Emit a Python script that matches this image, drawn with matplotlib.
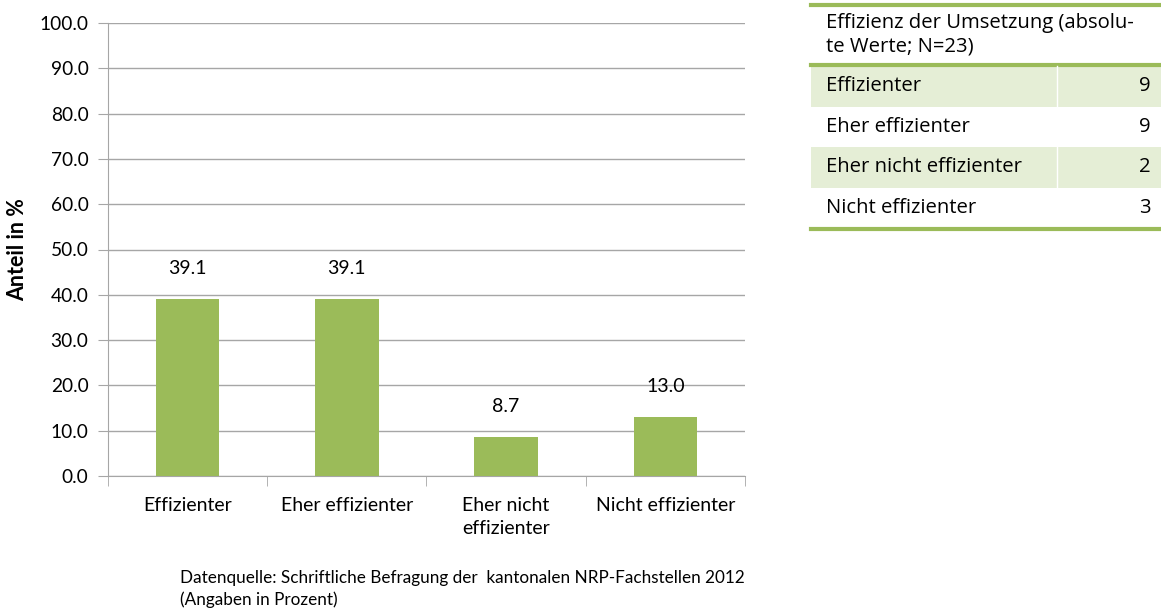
import matplotlib
matplotlib.use("Agg")
import matplotlib.pyplot as plt
from matplotlib.patches import Rectangle
import numpy as np

plt.rcParams['font.family'] = ['Lato', 'DejaVu Sans']

categories = ["Effizienter", "Eher effizienter", "Eher nicht\neffizienter", "Nicht effizienter"]
shares = [39.1, 39.1, 8.7, 13.0]
table_rows = ["Effizienter", "Eher effizienter", "Eher nicht effizienter", "Nicht effizienter"]
table_counts = [9, 9, 2, 3]
table_title = "Effizienz der Umsetzung (absolu-\nte Werte; N=23)"
source = "Datenquelle: Schriftliche Befragung der  kantonalen NRP-Fachstellen 2012\n(Angaben in Prozent)"

GREEN = "#9bbb59"
LIGHT = "#e5eed6"
GRID = "#a6a6a6"
TFONT = ["Open Sans", "DejaVu Sans"]

W, H = 1161, 615
fig = plt.figure(figsize=(W / 100, H / 100), dpi=100)
ax = fig.add_axes([108 / W, 1 - 476 / H, (745 - 108) / W, (476 - 23) / H])

x = np.arange(len(categories))
bars = ax.bar(x, shares, 0.4, color=GREEN, zorder=3)
for b, v in zip(bars, shares):
    ax.text(b.get_x() + b.get_width() / 2, v + 4.8, f"{v:.1f}", ha="center", va="bottom", fontsize=14)

ax.set_xlim(-0.5, len(categories) - 0.5)
ax.set_ylim(0, 100)
ax.set_yticks(np.arange(0, 101, 10))
ax.set_yticklabels([f"{t:.1f}" for t in np.arange(0, 101, 10)], fontsize=13.8)
ax.yaxis.grid(True, color=GRID, lw=1)
ax.set_axisbelow(True)
ax.set_xticks(x)
ax.set_xticklabels(categories, fontsize=14, linespacing=1.45)
ax.set_xticks(np.arange(-0.5, len(categories)), minor=True)
ax.tick_params(axis="x", which="major", length=0, pad=15)
ax.tick_params(axis="x", which="minor", length=7, color=GRID)
ax.tick_params(axis="y", length=7, color=GRID, pad=7)
for s in ["top", "right"]:
    ax.spines[s].set_visible(False)
for s in ["left", "bottom"]:
    ax.spines[s].set_color(GRID)
ax.set_ylabel("Anteil in %", fontsize=15.5, fontweight="bold", labelpad=8)

fig.text(180 / W, 1 - 570 / H, source, fontsize=12.3, va="top", ha="left", linespacing=1.4)

# summary table on the right, drawn in pixel coordinates
tx = fig.add_axes([0, 0, 1, 1], facecolor="none")
tx.set_xlim(0, W)
tx.set_ylim(H, 0)
tx.axis("off")
x0, x1 = 811, 1161
tx.plot([x0, x1], [5, 5], color=GREEN, lw=3)
tx.text(x0 + 15, 13, table_title, fontsize=14.6, va="top", family=TFONT, linespacing=1.25)
tx.plot([x0, x1], [65, 65], color=GREEN, lw=3)
row_h = 40.5
for i, (name, n) in enumerate(zip(table_rows, table_counts)):
    top = 66 + i * row_h
    if i % 2 == 0:
        tx.add_patch(Rectangle((x0, top), x1 - x0, row_h, color=LIGHT, lw=0))
        tx.plot([1057, 1057], [top, top + row_h], color="white", lw=1)
    tx.text(x0 + 15, top + row_h / 2, name, fontsize=14.6, va="center", family=TFONT)
    tx.text(1151, top + row_h / 2, str(n), fontsize=14.6, va="center", ha="right", family=TFONT)
tx.plot([x0, x1], [229, 229], color=GREEN, lw=3)

fig.savefig("out.png", dpi=100)
